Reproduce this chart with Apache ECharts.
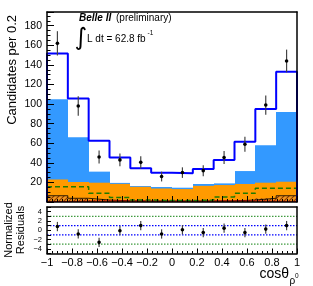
<!DOCTYPE html>
<html><head><meta charset="utf-8">
<script src="https://cdn.jsdelivr.net/npm/echarts@6/dist/echarts.min.js"></script>
<style>html,body{margin:0;padding:0;background:#fff}#c{width:313px;height:286px}</style>
</head><body><div id="c"></div>
<script>
// ---- data ----
const binEdges = [-1, -0.8333, -0.6667, -0.5, -0.3333, -0.1667, 0, 0.1667, 0.3333, 0.5, 0.6667, 0.8333, 1];
const dataCounts = [162, 98, 46, 43, 40.5, 26, 30, 32, 45.5, 59, 99, 144];
const dataErrors = [12.4, 9.9, 6.6, 6.5, 6.3, 5.0, 5.4, 5.6, 6.7, 7.6, 9.8, 11.6];
const totalFit = [151.5, 105.8, 62.6, 45.5, 34.4, 29.9, 29.3, 33.7, 42.9, 61.5, 94.9, 133];
const lightBlueStack = [104.8, 66, 31, 19.5, 16.3, 15.3, 14.6, 18.4, 19, 31.6, 58, 92];
const orangeStack = [23, 20.4, 19.7, 18.5, 15.5, 13.8, 13.2, 16.5, 17.3, 18.4, 19.7, 20.7];
const hatchedStack = [6.4, 3.8, 2, 1.2, 1, 1, 1, 1, 1.2, 2, 3.8, 6.4];
const redStack = [0.5, 0.8, 1.0, 1.0, 1.0, 0.8, 0.8, 1.0, 1.0, 1.0, 0.8, 0.5];
const greenDashed = [15.6, 15.6, 8.9, 4.6, 2, 1.5, 1.5, 2, 5.2, 8.9, 14, 14];
const residuals = [0.8, -0.8, -2.6, -0.1, 1.0, -0.8, 0.1, -0.5, 0.45, -0.5, 0.25, 1.0];
const residualErrors = [1, 1, 1, 1, 1, 1, 1, 1, 1, 1, 1, 1];
const mainYTicks = [20, 40, 60, 80, 100, 120, 140, 160, 180];
const residYTicks = [-4, -2, 0, 2, 4];
const innerBand = [1, -1];
const outerBand = [3, -3];

const FONT = '"Liberation Sans", Arial, Helvetica, sans-serif';

// ---- helpers to build library inputs ----
function binRects(tops){ return tops.map((t,i)=>[binEdges[i], binEdges[i+1], t]); }
function outline(tops, closed){
  const pts = [];
  if (closed) pts.push([binEdges[0], 0]);
  tops.forEach((t,i)=>{ pts.push([binEdges[i], t]); pts.push([binEdges[i+1], t]); });
  if (closed) pts.push([binEdges[binEdges.length-1], 0]);
  return pts;
}
const ctr = binEdges.slice(0,-1).map((e,i)=>(e+binEdges[i+1])/2);

// hatch pattern
const hc = document.createElement('canvas'); hc.width = 5; hc.height = 5;
(function(){ const g = hc.getContext('2d'); g.fillStyle = '#f0961e'; g.fillRect(0,0,5,5);
  g.strokeStyle = '#8a3a00'; g.lineWidth = 1.1; g.beginPath();
  g.moveTo(-1,6); g.lineTo(6,-1); g.moveTo(-1,1); g.lineTo(1,-1); g.moveTo(4,6); g.lineTo(6,4); g.stroke(); })();

function rectSeries(tops, fill, z, xi, yi){
  return { type:'custom', xAxisIndex:xi||0, yAxisIndex:yi||0, z:z, silent:true, clip:true,
    data: binRects(tops),
    renderItem: function(params, api){
      const p0 = api.coord([api.value(0), api.value(2)]);
      const p1 = api.coord([api.value(1), 0]);
      const x0 = Math.round(p0[0]), x1 = Math.round(p1[0]);
      return { type:'rect', shape:{ x:x0, y:p0[1], width:x1-x0, height:p1[1]-p0[1] }, style:{ fill: fill } };
    } };
}
function lineSeries(pts, color, width, type, z, xi, yi){
  return { type:'line', xAxisIndex:xi||0, yAxisIndex:yi||0, data: pts, symbol:'none', showSymbol:false,
    silent:true, z:z, lineStyle:{ color: color, width: width, type: type||'solid' } };
}
function errSeries(vals, errs, xi, yi){
  return { type:'custom', xAxisIndex:xi, yAxisIndex:yi, z:20, silent:true, clip:false,
    data: vals.map((v,i)=>[ctr[i], v, errs[i]]),
    renderItem: function(params, api){
      const c = api.coord([api.value(0), api.value(1)]);
      const lo = api.coord([api.value(0), api.value(1)-api.value(2)]);
      const hi = api.coord([api.value(0), api.value(1)+api.value(2)]);
      return { type:'group', children:[
        { type:'line', shape:{ x1:c[0], y1:lo[1], x2:c[0], y2:hi[1] }, style:{ stroke:'#444', lineWidth:1.2 } },
        { type:'circle', shape:{ cx:c[0], cy:c[1], r:1.8 }, style:{ fill:'#000' } }
      ] };
    } };
}

const axisBase = { axisLine:{ show:true, onZero:false, lineStyle:{ color:'#000', width:1.5 } }, z:30, splitLine:{ show:false } };
const chart = echarts.init(document.getElementById('c'), null, { renderer:'canvas' });
chart.setOption({
  animation:false,
  backgroundColor:'#fff',
  textStyle:{ fontFamily: FONT },
  grid:[ { left:47, right:16, top:12, height:190 }, { left:47, right:16, top:207, height:46.5 } ],
  xAxis:[
    Object.assign({}, axisBase, { gridIndex:0, type:'value', min:-1, max:1, interval:0.2,
      axisTick:{ inside:true, length:6, lineStyle:{ color:'#000' } },
      minorTick:{ show:true, splitNumber:5, length:3, lineStyle:{ color:'#000' } }, axisLabel:{ show:false } }),
    Object.assign({}, axisBase, { gridIndex:0, type:'value', position:'top', min:-1, max:1, axisTick:{show:false}, axisLabel:{show:false} }),
    Object.assign({}, axisBase, { gridIndex:1, type:'value', min:-1, max:1, interval:0.2,
      axisTick:{ inside:true, length:5, lineStyle:{ color:'#000' } },
      minorTick:{ show:true, splitNumber:5, length:2.5, lineStyle:{ color:'#000' } },
      axisLabel:{ margin:4, fontSize:11, color:'#000', fontFamily:FONT,
        formatter: v => { const r = Math.round(v*10)/10; return r === 0 ? '0' : String(r).replace('-', '\u2212'); } } }),
    Object.assign({}, axisBase, { gridIndex:1, type:'value', position:'top', min:-1, max:1, axisTick:{show:false}, axisLabel:{show:false} })
  ],
  yAxis:[
    Object.assign({}, axisBase, { gridIndex:0, type:'value', min:0, max:194, interval:20,
      axisTick:{ inside:true, length:7, lineStyle:{ color:'#000' } },
      minorTick:{ show:true, splitNumber:4, length:3.5, lineStyle:{ color:'#000' } },
      axisLabel:{ margin:5, fontSize:10.5, color:'#000', fontFamily:FONT,
        formatter: v => mainYTicks.indexOf(Math.round(v)) >= 0 && Math.abs(v-Math.round(v))<1e-6 ? String(Math.round(v)) : '' } }),
    Object.assign({}, axisBase, { gridIndex:0, type:'value', position:'right', min:0, max:194, axisTick:{show:false}, axisLabel:{show:false} }),
    Object.assign({}, axisBase, { gridIndex:1, type:'value', min:-5, max:5, interval:1,
      axisTick:{ inside:true, length:4, lineStyle:{ color:'#000' } },
      axisLabel:{ margin:5, fontSize:7.5, color:'#000', fontFamily:FONT,
        formatter: v => residYTicks.indexOf(Math.round(v)) >= 0 ? String(Math.round(v)).replace('-', '\u2212') : '' } }),
    Object.assign({}, axisBase, { gridIndex:1, type:'value', position:'right', min:-5, max:5, axisTick:{show:false}, axisLabel:{show:false} })
  ],
  series:[
    rectSeries(lightBlueStack, '#3399ff', 2),
    rectSeries(orangeStack, '#ff9a00', 3),
    rectSeries(hatchedStack, { image: hc, repeat:'repeat' }, 4),
    lineSeries(outline(hatchedStack, false), '#000', 0.8, 'solid', 5),
    lineSeries(outline(redStack, false), '#e00000', 1, 'solid', 6),
    lineSeries(outline(greenDashed, false), '#1f7a00', 1.5, [5,3], 7),
    lineSeries(outline(totalFit, true), '#0000ff', 2, 'solid', 8),
    errSeries(dataCounts, dataErrors, 0, 0),
    lineSeries([[-1, outerBand[0]],[1, outerBand[0]]], '#3f9a3f', 1.3, [1.5,1.5], 5, 2, 2),
    lineSeries([[-1, outerBand[1]],[1, outerBand[1]]], '#3f9a3f', 1.3, [1.5,1.5], 5, 2, 2),
    lineSeries([[-1, innerBand[0]],[1, innerBand[0]]], '#0000ff', 1.2, [1.5,1.5], 5, 2, 2),
    lineSeries([[-1, innerBand[1]],[1, innerBand[1]]], '#0000ff', 1.2, [1.5,1.5], 5, 2, 2),
    errSeries(residuals, residualErrors, 2, 2)
  ],
  graphic:[
    { type:'text', x:12, y:15, rotation:Math.PI/2, style:{ text:'Candidates per 0.2', fontSize:13, fontFamily:FONT, fill:'#000', align:'right', verticalAlign:'middle' } },
    { type:'text', x:9, y:230, rotation:Math.PI/2, style:{ text:'Normalized', fontSize:11, fontFamily:FONT, fill:'#000', align:'center', verticalAlign:'middle' } },
    { type:'text', x:21, y:230, rotation:Math.PI/2, style:{ text:'Residuals', fontSize:11, fontFamily:FONT, fill:'#000', align:'center', verticalAlign:'middle' } },
    { type:'text', x:79, y:18, style:{ text:'Belle II', fontSize:10, fontWeight:'bold', fontStyle:'italic', fontFamily:FONT, fill:'#000', verticalAlign:'middle' } },
    { type:'text', x:116, y:18, style:{ text:'(preliminary)', fontSize:10, fontFamily:FONT, fill:'#000', verticalAlign:'middle' } },
    { type:'text', x:81, y:39, style:{ text:'\u222B', fontSize:24, fontFamily:'"DejaVu Sans", sans-serif', fill:'#000', align:'center', verticalAlign:'middle' } },
    { type:'text', x:87, y:39, style:{ text:'L dt = 62.8 fb', fontSize:10, fontFamily:FONT, fill:'#000', verticalAlign:'middle' } },
    { type:'text', x:147.5, y:33, style:{ text:'-1', fontSize:6.5, fontFamily:FONT, fill:'#000', verticalAlign:'middle' } },
    { type:'text', x:289, y:274, style:{ text:'cos\u03B8', fontSize:14, fontFamily:FONT, fill:'#000', align:'right', verticalAlign:'middle' } },
    { type:'text', x:289.5, y:281, style:{ text:'\u03C1', fontSize:10, fontFamily:FONT, fill:'#000', verticalAlign:'middle' } },
    { type:'text', x:295, y:276.5, style:{ text:'0', fontSize:6.5, fontFamily:FONT, fill:'#000', verticalAlign:'middle' } }
  ]
});
</script>
</body></html>
